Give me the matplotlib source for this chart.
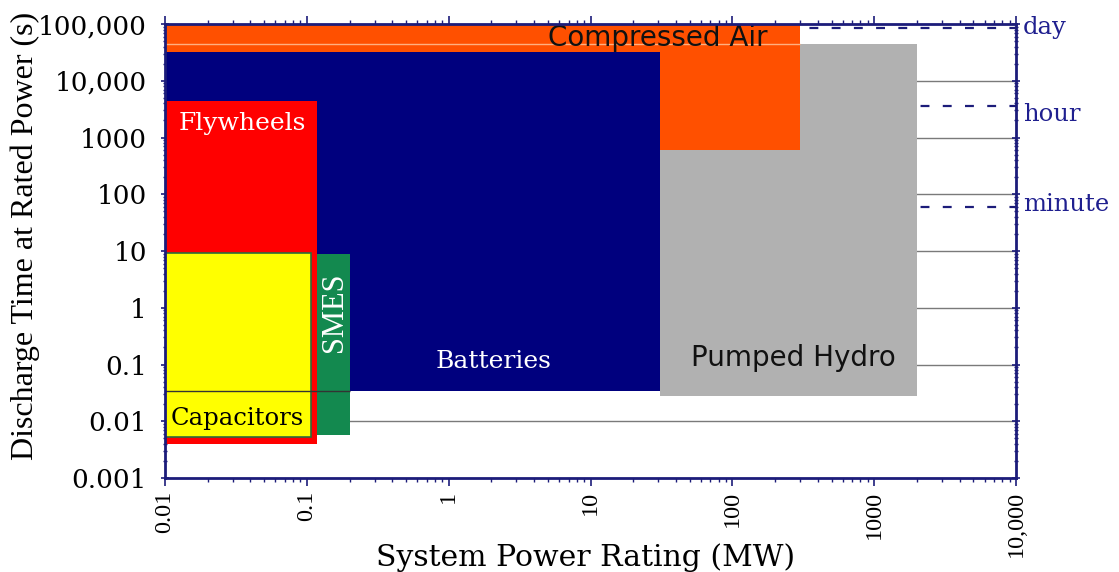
import matplotlib
matplotlib.use("Agg")
from matplotlib import pyplot as plt
from matplotlib.patches import Rectangle
from matplotlib.ticker import FixedLocator, LogLocator, NullFormatter
from matplotlib.transforms import offset_copy

# storage technologies: power range (MW) and discharge time range (s)
names = ["Pumped Hydro", "Compressed Air", "Batteries", "Flywheels", "Capacitors", "SMES"]
p_lo = [31, 0.01, 0.01, 0.01, 0.01, 0.118]
p_hi = [2000, 300, 31, 0.118, 0.107, 0.2]
t_lo = [0.028, 600, 0.034, 0.004, 0.0053, 0.0057]
t_hi = [44600, 100000, 32000, 4400, 9.2, 9.0]
colors = ["#B1B1B1", "#FF5000", "#00007E", "#FF0000", "#FFFF00", "#13894F"]

# time scale reference lines (s)
ref_names = ["day", "hour", "minute"]
ref_secs = [86400, 3600, 60]

x_ticks = [0.01, 0.1, 1, 10, 100, 1000, 10000]
x_labels = ["0.01", "0.1", "1", "10", "100", "1000", "10,000"]
y_ticks = [0.001, 0.01, 0.1, 1, 10, 100, 1000, 10000, 100000]
y_labels = ["0.001", "0.01", "0.1", "1", "10", "100", "1000", "10,000", "100,000"]

# label placement (data coords) and style
lab_pos = {
    "Pumped Hydro": (268, 0.13),
    "Compressed Air": (30, 56600),
    "Batteries": (2.06, 0.115),
    "Flywheels": (0.035, 1800),
    "Capacitors": (0.0325, 0.0114),
    "SMES": (0.1556, 0.84),
}
lab_style = {
    "Pumped Hydro": dict(color="#111111", family="DejaVu Sans", fontsize=20),
    "Compressed Air": dict(color="#111111", family="DejaVu Sans", fontsize=20),
    "Batteries": dict(color="white", family="DejaVu Serif", fontsize=18),
    "Flywheels": dict(color="white", family="DejaVu Serif", fontsize=18),
    "Capacitors": dict(color="black", family="DejaVu Serif", fontsize=17.5),
    "SMES": dict(color="white", family="Liberation Serif", fontsize=22, rotation=90),
}
ref_offset = {"day": 0, "hour": -6, "minute": 2}  # points

navy = "#1C1C7A"
serif = "Liberation Serif"
wide_serif = "DejaVu Serif"

fig = plt.figure(figsize=(11.19, 5.72), dpi=100)
ax = fig.add_axes([0.1475, 0.1643, 0.7605, 0.7937])
ax.set_xscale("log")
ax.set_yscale("log")
ax.set_xlim(0.01, 10000)
ax.set_ylim(0.001, 100000)

# grid behind everything
for t in y_ticks[1:-1]:
    ax.axhline(t, color="#7A7A7A", lw=1.0, zorder=0)

# dashed time references
for s in ref_secs:
    ax.axhline(s, color=navy, lw=1.6, ls=(0, (4, 6)), zorder=0.5)
for name, s in zip(ref_names, ref_secs):
    tr = offset_copy(ax.get_yaxis_transform(), fig=fig, y=ref_offset[name], units="points")
    ax.text(1.008, s, name, transform=tr, color="#1F1F8F",
            family=wide_serif, fontsize=17.5, va="center", ha="left")

for i, name in enumerate(names):
    ec = "#2E6B3A" if name == "Capacitors" else "none"
    r = Rectangle((p_lo[i], t_lo[i]), p_hi[i] - p_lo[i], t_hi[i] - t_lo[i],
                  facecolor=colors[i], edgecolor=ec, lw=1.2, zorder=2 + i)
    ax.add_patch(r)
    x, y = lab_pos[name]
    ax.text(x, y, name, ha="center", va="center", zorder=20, **lab_style[name])

# faint streak in the compressed air band, battery floor line over the small boxes
ax.hlines(44000, 0.01, 300, color="#FFB080", lw=1.0, zorder=3.5)
ax.hlines(t_lo[2], 0.01, p_hi[5], color="#333333", lw=1.0, zorder=15)

ax.xaxis.set_major_locator(FixedLocator(x_ticks))
ax.set_xticklabels(x_labels, rotation=90, family=serif, fontsize=17.5)
ax.yaxis.set_major_locator(FixedLocator(y_ticks))
ax.set_yticklabels(y_labels, family=wide_serif, fontsize=19)
ax.xaxis.set_minor_locator(LogLocator(base=10, subs=range(2, 10), numticks=20))
ax.yaxis.set_minor_locator(LogLocator(base=10, subs=range(2, 10), numticks=20))
ax.xaxis.set_minor_formatter(NullFormatter())
ax.yaxis.set_minor_formatter(NullFormatter())
ax.tick_params(axis="both", which="major", length=6, width=1.2, color=navy, pad=3)
ax.tick_params(axis="both", which="minor", length=3, width=1.0, color=navy)
ax.tick_params(top=True, right=True, which="both")
ax.tick_params(axis="y", which="both", direction="inout")
ax.tick_params(axis="y", which="major", pad=10)

for sp in ax.spines.values():
    sp.set_color(navy)
    sp.set_linewidth(2)
    sp.set_zorder(30)

fig.text(0.5237, 0.025, "System Power Rating (MW)", family=wide_serif, fontsize=21.5,
         ha="center", va="center")
fig.text(0.023, 1 - 236 / 572, "Discharge Time at Rated Power (s)", family=serif,
         fontsize=23, rotation=90, ha="center", va="center")

fig.savefig("out.png", dpi=100)
